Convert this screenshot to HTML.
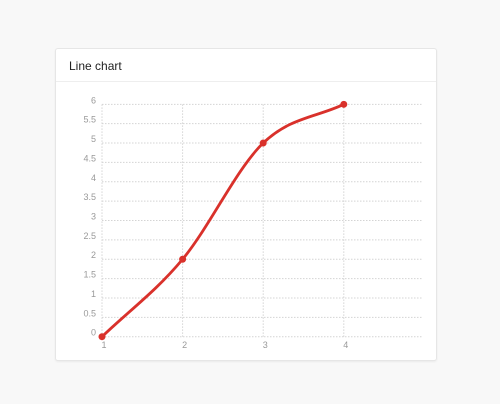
<!DOCTYPE html>
<html><head><meta charset="utf-8"><style>
body{margin:0;width:500px;height:404px;background:#f8f8f8;font-family:"Liberation Sans",sans-serif;position:relative;overflow:hidden}
.card{position:absolute;left:55px;top:48px;width:380px;height:311px;background:#fff;border:1px solid #e6e6e6;border-radius:3px;box-shadow:0 1px 2px rgba(0,0,0,0.06)}
.hdr{position:absolute;left:0;top:0;width:380px;height:32px;border-bottom:1px solid #eee;font-size:12px;color:#222;line-height:34px;text-indent:13px}
svg{position:absolute;left:0;top:0}
</style></head><body>
<div class="card">
<div class="hdr">Line chart</div>
</div>
<svg id="c" width="500" height="404"></svg>
<script>
const xs=[1,2,3,4];
const ys=[0,2,5,6];
const yTicks=[0,0.5,1,1.5,2,2.5,3,3.5,4,4.5,5,5.5,6];
const yTickLabels=["0","0.5","1","1.5","2","2.5","3","3.5","4","4.5","5","5.5","6"];
const xTicks=[1,2,3,4];
const X=v=>102+(v-1)*80.6, Y=v=>336.7-v*38.73;
const svg=document.getElementById('c'), NS='http://www.w3.org/2000/svg';
function mk(t,a){const e=document.createElementNS(NS,t);for(const k in a)e.setAttribute(k,a[k]);svg.appendChild(e);return e;}
yTicks.forEach((v,i)=>{
 const l=mk('line',{x1:102,x2:423,y1:Y(v),y2:Y(v),stroke:'#d4d4d4','stroke-dasharray':'1.5,1.5','stroke-width':1});
 
 
 const t=mk('text',{x:96,y:Y(v)-1,'text-anchor':'end','font-size':9,fill:'#999','font-family':'Liberation Sans, sans-serif'});
 t.textContent=yTickLabels[i];
 
 
});
xTicks.forEach(v=>{
 const l=mk('line',{x1:X(v),x2:X(v),y1:Y(6),y2:Y(0),stroke:'#d4d4d4','stroke-dasharray':'1.5,1.5','stroke-width':1});
 
 
 const t=mk('text',{x:X(v)+2,y:348,'text-anchor':'middle','font-size':9,fill:'#999','font-family':'Liberation Sans, sans-serif'});
 t.textContent=String(v);
 
 
});
// monotone cubic
const px=xs.map(X),py=ys.map(Y),n=px.length;
const d=[],m=[];
for(let i=0;i<n-1;i++)d.push((py[i+1]-py[i])/(px[i+1]-px[i]));
for(let i=0;i<n;i++){
 if(i===0)m.push(d[0]);else if(i===n-1)m.push(d[n-2]);
 else m.push(d[i-1]*d[i]<=0?0:(d[i-1]+d[i])/2);
}
for(let i=0;i<n-1;i++){const a=m[i]/d[i],b=m[i+1]/d[i];const s=a*a+b*b;if(s>9){const t=3/Math.sqrt(s);m[i]=t*a*d[i];m[i+1]=t*b*d[i];}}
let p='M'+px[0]+','+py[0];
for(let i=0;i<n-1;i++){const h=(px[i+1]-px[i])/3;p+=' C'+(px[i]+h)+','+(py[i]+m[i]*h)+' '+(px[i+1]-h)+','+(py[i+1]-m[i+1]*h)+' '+px[i+1]+','+py[i+1];}
const line=mk('path',{d:p,fill:'none',stroke:'#d9312b','stroke-width':2.8});


xs.forEach((v,i)=>{
 const c=mk('circle',{cx:X(v),cy:Y(ys[i]),r:3.5,fill:'#d9312b'});
 
 
});
</script>
</body></html>
